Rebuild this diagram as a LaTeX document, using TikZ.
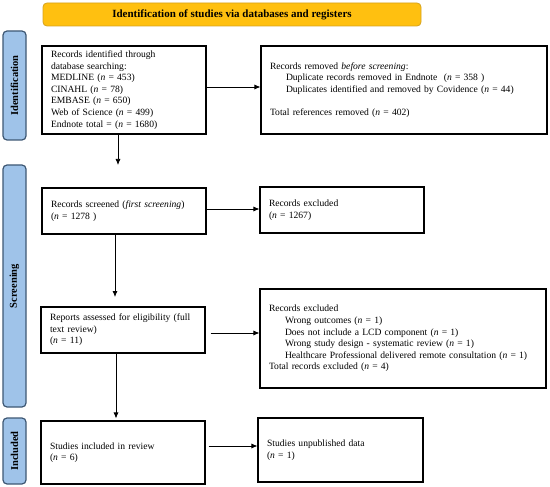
\documentclass[tikz,border=0pt]{standalone}
\usepackage{fontspec}
\setmainfont{Liberation Serif}
\usepackage{tikz}
\usetikzlibrary{arrows.meta}

\definecolor{sideblue}{HTML}{9FC3E9}
\definecolor{sideedge}{HTML}{3E5874}
\definecolor{banneryellow}{HTML}{FFC010}
\definecolor{banneredge}{HTML}{D6A21E}

\tikzset{
    box/.style={draw, line width=1.1pt, align=left, inner xsep=9pt, inner ysep=2pt,
        font=\fontsize{9.6}{11.6}\selectfont},
    sidebar/.style={draw=sideedge, fill=sideblue, line width=1.2pt, rounded corners=4pt,
        rotate=90, minimum height=23pt, font=\bfseries\fontsize{10.5}{12}\selectfont},
    arr/.style={-{Latex[length=6pt,width=5pt]}, line width=0.75pt},
}

\begin{document}
\begin{tikzpicture}[x=1pt,y=-1pt]
    \useasboundingbox (0,0) rectangle (550,487);

    % Draw the banner on top
    \node[draw=banneredge, fill=banneryellow, rounded corners=4pt, line width=0.8pt,
        minimum width=378pt, minimum height=23pt,
        font=\bfseries\fontsize{11}{12}\selectfont] (banner) at (232,14.5)
        {Identification of studies via databases and registers};

    % Draw the side bars with the phase names
    \foreach \name/\yc/\len/\phase in {ident/85.5/109/Identification, screen/286/242/Screening, incl/451/66/Included} {
        \node[sidebar, minimum width=\len pt] (side\name) at (14.5,\yc) {\phase};
    }

    % Draw the boxes of the left column
    \node[box, text width=146pt, minimum height=88pt] (found) at (124,90)
        {Records identified through\\database searching:\\MEDLINE (\textit{n} = 453)\\CINAHL (\textit{n} = 78)\\EMBASE (\textit{n} = 650)\\Web of Science (\textit{n} = 499)\\Endnote total = (\textit{n} = 1680)};
    \node[box, text width=146pt, minimum height=46pt] (screened) at (124,211)
        {Records screened (\textit{first screening})\\(\textit{n} = 1278 )};
    \node[box, text width=146pt, minimum height=46pt] (reports) at (123,330)
        {Reports assessed for eligibility (full\\text review)\\(\textit{n} = 11)};
    \node[box, text width=146pt, minimum height=63pt] (included) at (123,452.5)
        {Studies included in review\\(\textit{n} = 6)};

    % Draw the boxes of the right column
    \node[box, text width=268pt, minimum height=88pt] (removed) at (404,90)
        {Records removed \textit{before screening}:\\
        \hspace*{16pt}Duplicate records removed in Endnote~ (\textit{n} = 358 )\\
        \hspace*{16pt}Duplicates identified and removed by Covidence (\textit{n} = 44)\\[11.6pt]
        Total references removed (\textit{n} = 402)};
    \node[box, text width=146pt, minimum height=46pt] (excluded) at (342,210)
        {Records excluded\\(\textit{n} = 1267)};
    \node[box, text width=268pt, minimum height=99pt] (notkept) at (403,338.5)
        {Records excluded\\
        \hspace*{16pt}Wrong outcomes (\textit{n} = 1)\\
        \hspace*{16pt}Does not include a LCD component (\textit{n} = 1)\\
        \hspace*{16pt}Wrong study design - systematic review (\textit{n} = 1)\\
        \hspace*{16pt}Healthcare Professional delivered remote consultation (\textit{n} = 1)\\
        Total records excluded (\textit{n} = 4)};
    \node[box, text width=147pt, minimum height=64pt] (unpublished) at (340.5,450)
        {Studies unpublished data\\(\textit{n} = 1)};

    % Points where the arrows run
    \coordinate (row1) at (0,87);
    \coordinate (row2) at (0,209);
    \coordinate (row3) at (0,333);
    \coordinate (row4) at (0,446);
    \coordinate (gap1) at (118,165);
    \coordinate (gap2) at (115,297);
    \coordinate (col3) at (116,0);

    % Draw the arrows to the right
    \draw[arr] (found.east |- row1) -- (removed.west |- row1);
    \draw[arr] (screened.east |- row2) -- (excluded.west |- row2);
    \draw[arr, shorten <=5pt] (reports.east |- row3) -- (notkept.west |- row3);
    \draw[arr, shorten <=3pt] (included.east |- row4) -- (unpublished.west |- row4);

    % Draw the arrows going down
    \draw[arr] (found.south -| gap1) -- (gap1);
    \draw[arr] (screened.south -| gap2) -- (gap2);
    \draw[arr, shorten >=2pt] (reports.south -| col3) -- (included.north -| col3);

\end{tikzpicture}
\end{document}
